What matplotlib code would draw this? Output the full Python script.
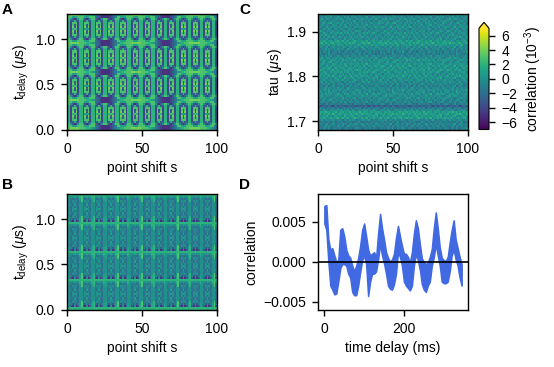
import numpy as np
import matplotlib
matplotlib.use('Agg')
import matplotlib.pyplot as plt

plt.rcParams['font.family'] = ['Liberation Sans', 'DejaVu Sans']
plt.rcParams['font.size'] = 10
plt.rcParams['mathtext.fontset'] = 'custom'
plt.rcParams['mathtext.rm'] = 'Liberation Sans'
plt.rcParams['mathtext.it'] = 'Liberation Sans:italic'
plt.rcParams['mathtext.bf'] = 'Liberation Sans:bold'

# panel A, one oval of the pattern, correlation in 1e-3
tile_a = [
    [3, 3, 3, 3, 3, 3, 3],
    [3, 3, 1, 1, 1, 3, 3],
    [3, 0, -3, -5, -3, 0, 3],
    [2, -3, -3, 2, -3, -3, 2],
    [2, -4, 3, 3, 3, -4, 2],
    [2, -4, 3, -3, 3, -4, 2],
    [2, -4, 4, -3, 4, -4, 2],
    [2, -4, 2, 3, 2, -4, 2],
    [2, -4, 4, -3, 4, -4, 2],
    [2, -4, 3, -3, 3, -4, 2],
    [2, -4, 3, 3, 3, -4, 2],
    [2, -3, -3, 2, -3, -3, 2],
    [3, 0, -3, -5, -3, 0, 3],
    [3, 3, 1, 1, 1, 3, 3],
]
band_a = [3, 3, 4, 4, 4, 4, 4, 3, 3, 3,
          3, 2, 2, 2, 1, 0, -1, -2, -3, -4,
          -5, -5, -5, -5, -5, -4, -3, -2, -1, 0,
          1, 2, 2, 3, 3, 3, 3, 4, 4, 4,
          4, 4, 4, 3, 3, 3, 3, 2, 2, 1,
          0, -1, -2, -3, -4, -5, -5, -5, -5, -5,
          -4, -3, -2, -1, 0, 1, 2, 2, 3, 3,
          3, 4, 4, 4, 4, 4, 4, 3, 3, 3,
          3, 2, 2, 1, 0, -1, -2]
bar_ovals_a = [1, 9, 11]

# panel B
tile_b = [
    [2, 2, 2, 2, 2, 2, 2],
    [1, -3, -5, 0, -5, -3, 1],
    [1, -1, -3, -1, -3, -1, 1],
    [0, -2, 0, -1, 0, -2, 0],
    [0, -2, -1, 0, -1, -2, 0],
    [0, -1, -2, 1, -2, -1, 0],
    [0, -2, 0, -2, 0, -2, 0],
    [0, -2, 0, 1, 0, -2, 0],
    [0, -2, 0, -2, 0, -2, 0],
    [0, -1, -2, 1, -2, -1, 0],
    [0, -2, -1, 0, -1, -2, 0],
    [0, -2, 0, -1, 0, -2, 0],
    [1, -1, -2, -1, -2, -1, 1],
    [2, 0, 0, 1, 0, 0, 2],
]
gap_b = [0, 3, 2, 1, 3, 0, 3, 2, 0, 3, 2, 0, 3]
gap_rows_b = [1, 2, 3, 11, 12, 13]

# panel C, row offsets from top to bottom and a patch of cell noise
row_c = [-0.5, -0.6, -0.3, -0.6, -0.2, -0.5, -0.2, -0.6, -0.3, -0.1,
         -0.4, -0.2, -0.3, 0.3, 0.7, 0.2, -0.4, -0.6, -0.9, -1.1,
         -0.7, -0.2, 0.0, -0.2, 0.1, 0.2, 0.0, 0.3, 0.1, -0.1,
         0.2, 0.0, -0.3, -0.5, -0.6, -0.9, -0.5, -0.2, -0.4, -0.1,
         -0.3, -0.5, -0.6, -0.7, -1.2, -2.8, -1.4, -0.4, 0.6, 0.7,
         0.3, 0.5, -0.6, -1.2, -0.7, -0.9, -1.1]
tex_c = [
    "4 6 2 7 5 3 8 1 4 5 6 3 9 4 2 5 7 4 3 6 1 5 8 4 6 2 3 7 5 4 9 2 6 3 5 1 7",
    "6 1 5 4 8 2 6 5 3 7 2 8 4 5 6 1 3 9 5 2 6 4 3 7 1 5 8 4 2 6 3 5 7 4 1 8 4",
    "3 7 4 2 6 9 1 4 7 5 3 4 6 2 8 5 4 1 7 5 3 8 6 2 4 9 5 1 7 3 6 4 2 8 5 6 3",
    "8 2 5 6 3 4 7 2 5 9 1 6 3 7 4 2 8 5 4 6 2 3 5 9 6 1 4 7 3 5 2 8 4 6 7 3 5",
    "5 4 9 1 7 5 3 6 8 2 4 5 7 3 1 6 5 2 8 3 7 5 1 4 3 6 8 2 5 9 4 1 6 3 2 7 6",
    "2 6 3 8 4 1 5 7 3 4 6 9 2 5 8 3 6 7 1 4 5 9 4 6 2 7 3 5 8 1 6 4 7 2 5 4 8",
    "7 3 5 4 6 8 2 4 1 6 7 3 5 4 2 9 1 4 6 5 8 2 3 7 5 4 1 6 3 7 2 5 8 4 9 1 3",
    "4 8 1 6 2 5 7 3 9 5 2 4 8 6 3 5 7 2 4 9 3 6 7 1 4 8 5 2 6 4 5 3 1 7 6 2 5",
    "1 5 7 3 9 4 6 2 5 3 8 1 6 4 7 2 5 3 8 1 6 4 5 3 9 2 6 7 4 1 8 5 3 5 2 7 4",
    "6 4 2 8 5 3 1 7 4 6 5 7 2 9 3 6 4 8 2 5 7 3 1 6 5 4 7 3 8 5 2 6 9 4 3 1 5",
    "3 9 6 4 1 7 5 4 8 2 3 6 4 1 5 7 3 6 4 7 2 5 9 3 8 1 4 6 2 7 5 3 4 6 8 5 2",
    "5 2 4 7 6 3 8 5 1 4 9 2 5 7 6 3 1 5 8 3 6 4 2 7 4 6 3 9 5 1 4 7 2 5 6 3 7",
    "8 6 3 1 5 9 2 6 4 7 3 5 8 2 4 6 9 4 2 6 1 7 5 3 6 2 8 4 1 6 7 3 5 8 1 4 6",
    "2 4 7 5 3 6 4 1 8 5 6 2 4 7 3 8 5 1 7 4 5 3 6 8 2 5 4 7 9 3 5 2 6 4 7 6 3",
    "6 1 5 8 2 4 7 9 3 2 5 7 1 6 5 2 4 6 3 8 2 6 4 5 1 7 3 6 4 2 8 6 3 5 1 9 4",
    "4 7 3 6 5 1 3 5 6 8 4 3 6 2 9 4 7 3 5 2 6 9 1 4 7 5 2 8 3 6 4 1 7 2 6 5 8",
    "7 5 9 2 4 8 6 2 4 1 7 5 3 8 4 1 6 5 7 4 3 2 7 5 3 8 6 1 5 4 7 5 3 9 4 2 1",
    "3 2 6 4 7 3 5 8 1 6 3 9 5 4 2 7 3 8 1 6 5 7 4 2 6 4 3 5 9 2 1 6 8 4 5 7 4",
    "5 8 4 1 6 2 9 4 7 3 5 2 6 1 7 5 4 2 6 3 8 5 3 6 9 1 7 4 2 6 8 3 5 1 7 3 6",
]
tex_scale_c = 0.36

# panel D, edges of the blue band every 5 ms
delay_d = [0, 5, 10, 15, 20, 25, 30, 35, 40, 45, 50, 55, 60, 65, 70, 75, 80, 85, 90, 95,
           100, 105, 110, 115, 120, 125, 130, 135, 140, 145, 150, 155, 160, 165, 170, 175, 180, 185, 190, 195,
           200, 205, 210, 215, 220, 225, 230, 235, 240, 245, 250, 255, 260, 265, 270, 275, 280, 285, 290, 295,
           300, 305, 310, 315, 320, 325, 330, 335, 340, 345]
hi_d = [.0070, .0071, .0028, .0015, .0017, .0008, .0000, .0002, .0040, .0042, .0032, .0015, .0008, .0005, -.0005, -.0012, -.0005, .0005, .0020, .0040,
        .0048, .0032, .0015, .0008, .0010, .0012, .0005, .0035, .0060, .0042, .0028, .0012, .0005, .0000, .0003, .0010, .0030, .0045, .0032, .0020,
        .0010, .0010, .0006, -.0001, .0012, .0035, .0052, .0042, .0022, .0004, .0000, -.0003, -.0001, .0006, .0016, .0042, .0062, .0042, .0018, .0005,
        .0002, .0001, .0006, .0024, .0040, .0052, .0028, .0017, .0006, -.0003]
lo_d = [.0048, .0040, .0000, -.0030, -.0035, -.0041, -.0040, -.0025, -.0008, -.0003, -.0003, -.0005, -.0015, -.0020, -.0038, -.0042, -.0042, -.0030, -.0013, .0002,
        .0008, -.0003, -.0043, -.0025, -.0015, -.0015, -.0012, .0003, .0022, .0008, -.0002, -.0015, -.0030, -.0034, -.0035, -.0028, -.0015, .0012, .0006, -.0005,
        -.0025, -.0030, -.0033, -.0036, -.0030, -.0005, .0010, .0002, -.0010, -.0028, -.0035, -.0038, -.0030, -.0025, -.0005, .0006, .0022, .0008, -.0005, -.0025,
        -.0027, -.0027, -.0025, -.0012, .0008, .0015, .0003, -.0005, -.0020, -.0030]

# build the pictures
n_rows = 57
n_cols = 87
img_a = np.zeros((n_rows, n_cols))
img_b = np.zeros((n_rows, n_cols))
for r in range(n_rows):
    for c in range(n_cols):
        rt = r % 14
        ct = (c - 1) % 7
        oval = (c - 1) // 7
        val = tile_a[rt][ct]
        if rt == 0:
            val = band_a[c]
        elif (rt == 1 or rt == 13) and band_a[c] < 0:
            val = min(val, band_a[c])
        elif rt == 7 and oval in bar_ovals_a and ct in (2, 3, 4):
            val = 1
        img_a[r, c] = val
        val = tile_b[rt][ct]
        if ct == 0 and rt in gap_rows_b:
            val = gap_b[min(max(oval, 0), len(gap_b) - 1)]
        img_b[r, c] = val

noise_c = [[int(d) for d in line.split()] for line in tex_c]
img_c = np.zeros((n_rows, n_cols))
for r in range(n_rows):
    row = noise_c[r % len(noise_c)]
    for c in range(n_cols):
        img_c[r, c] = row_c[n_rows - 1 - r] + (row[c % len(row)] - 4.5) * tex_scale_c

W = 554.0
H = 367.0
def box(left, top, right, bottom):
    return [left / W, 1 - bottom / H, (right - left) / W, (bottom - top) / H]

fig = plt.figure(figsize=(5.54, 3.67), dpi=100)
ax_a = fig.add_axes(box(67, 14, 217, 129.5))
ax_b = fig.add_axes(box(67, 194, 217, 309.5))
ax_c = fig.add_axes(box(318, 14, 468, 129.5))
ax_d = fig.add_axes(box(318, 194, 468, 310))
cax = fig.add_axes(box(479, 22.3, 489, 129.5))

vmin = -7
vmax = 7
shift = np.linspace(0, 100, n_cols + 1)
tdelay = np.linspace(0, 1.28, n_rows + 1)
tau = np.linspace(1.681, 1.94, n_rows + 1)
ax_a.pcolormesh(shift, tdelay, img_a, cmap='viridis', vmin=vmin, vmax=vmax)
ax_b.pcolormesh(shift, tdelay, img_b, cmap='viridis', vmin=vmin, vmax=vmax)
im = ax_c.pcolormesh(shift, tau, img_c, cmap='viridis', vmin=vmin, vmax=vmax)

ax_d.fill_between(delay_d, lo_d, hi_d, color='royalblue', linewidth=1.1)
ax_d.axhline(0, color='black', lw=1.2)
ax_d.set_xlim(-16, 361)
ax_d.set_ylim(-0.00606, 0.0085)
ax_d.set_xticks([0, 200])
ax_d.set_yticks([-0.005, 0, 0.005])
ax_d.set_xlabel('time delay (ms)', labelpad=3.5)
ax_d.set_ylabel('correlation', labelpad=3)

for ax in [ax_a, ax_b]:
    ax.set_xticks([0, 50, 100])
    ax.set_yticks([0, 0.5, 1.0])
    ax.set_xlabel('point shift s', labelpad=3.5)
    ax.set_ylabel(r't$_{\mathrm{delay}}$ ($\mu$s)', labelpad=3)
ax_c.set_xticks([0, 50, 100])
ax_c.set_yticks([1.7, 1.8, 1.9])
ax_c.set_xlabel('point shift s', labelpad=3.5)
ax_c.set_ylabel(r'tau ($\mu$s)', labelpad=2)

for ax in [ax_a, ax_b, ax_c, ax_d]:
    ax.tick_params(length=4.3, width=1, pad=4.5)
    for s in ax.spines.values():
        s.set_linewidth(1)

cb = fig.colorbar(im, cax=cax, extend='max', extendfrac=0.06, ticks=[-6, -4, -2, 0, 2, 4, 6])
cb.ax.tick_params(length=4.3, width=1, pad=4.5)
cb.set_label(r'correlation ($10^{-3}$)', labelpad=4)

fig.text(2 / W, 1 - 14 / H, 'A', fontsize=11, fontweight='bold')
fig.text(2 / W, 1 - 189 / H, 'B', fontsize=11, fontweight='bold')
fig.text(239 / W, 1 - 14 / H, 'C', fontsize=11, fontweight='bold')
fig.text(239 / W, 1 - 189 / H, 'D', fontsize=11, fontweight='bold')

fig.savefig('out.png', dpi=100)
